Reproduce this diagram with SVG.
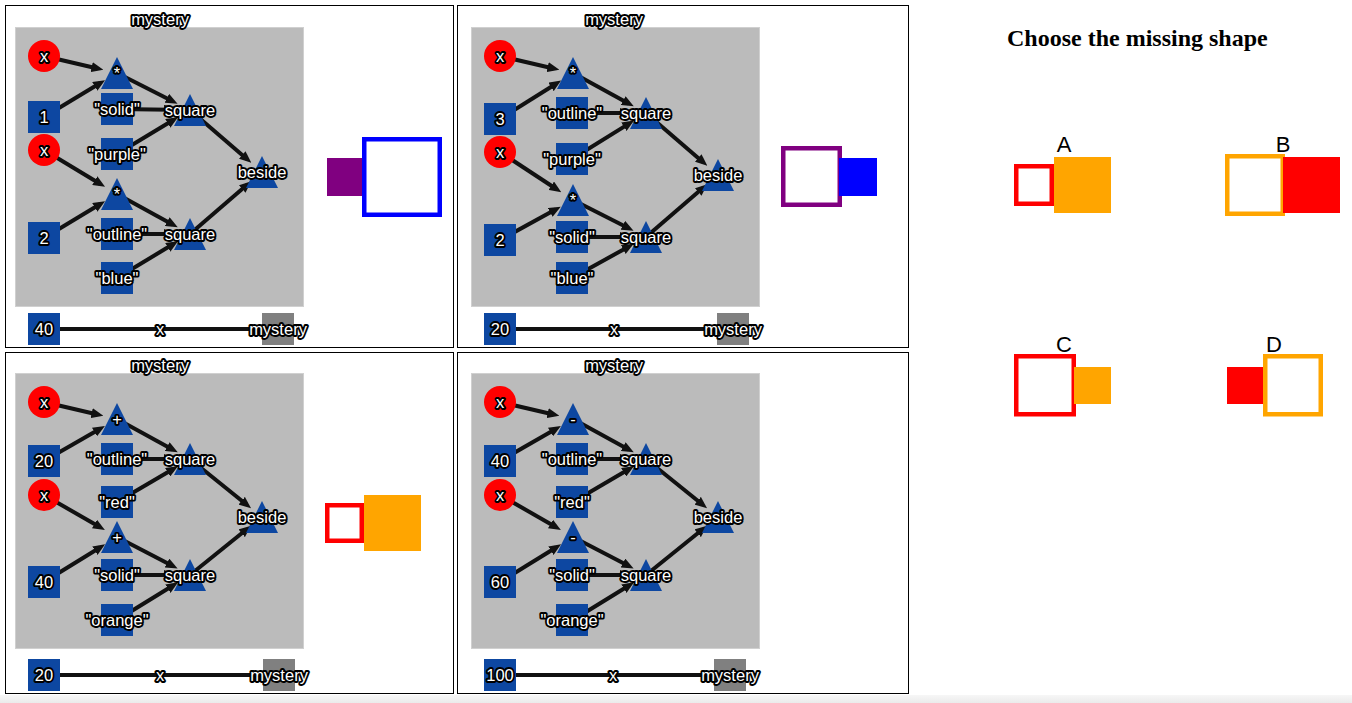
<svg xmlns="http://www.w3.org/2000/svg" width="1352" height="703" viewBox="0 0 1352 703">
<style>
.frame{fill:#fff;stroke:#000;stroke-width:1}
.box{fill:#bbbbbb;stroke:#d0d0d0;stroke-width:1}
.e{stroke:#111;stroke-width:4;fill:none;marker-end:url(#arr)}
.ln{stroke:#111;stroke-width:4;fill:none}
.sqn{fill:#0d47a1}
.tri{fill:#0d47a1}
.var{fill:#ff0000}
.mys{fill:#808080}
.lbl{font-family:"Liberation Sans",Arial,Helvetica,sans-serif;font-size:16.5px;fill:#fff;stroke:#000;stroke-width:3.8;stroke-linejoin:round;paint-order:stroke;text-anchor:middle}
.title{font-family:"Liberation Serif","Times New Roman",serif;font-size:24px;font-weight:bold;fill:#000}
.opt{font-family:"Liberation Sans",Arial,Helvetica,sans-serif;font-size:22px;fill:#000;text-anchor:middle}
</style>
<defs>
<marker id="arr" markerUnits="userSpaceOnUse" markerWidth="12" markerHeight="10" refX="6" refY="5" orient="auto" viewBox="0 0 12 10"><path d="M0,0 L12,5 L0,10 z" fill="#111"/></marker>
<linearGradient id="bot" x1="0" y1="0" x2="0" y2="1"><stop offset="0" stop-color="#f7f7f7"/><stop offset="1" stop-color="#ebebeb"/></linearGradient>
</defs>
<rect x="0" y="0" width="1352" height="703" fill="#fff"/>
<rect x="0" y="695" width="1352" height="8" fill="url(#bot)"/>

<!-- Panel 1 -->
<g id="panel1">
<rect class="frame" x="5.5" y="5.5" width="448" height="342"/>
<rect class="box" x="15.5" y="27.5" width="288" height="279"/>
<text class="lbl" x="160" y="19" dy="0.35em">mystery</text>
<g id="p1-connectors">
<line class="e" x1="44" y1="56" x2="97.5" y2="68.5"/>
<line class="e" x1="44" y1="117" x2="99.9" y2="83.3"/>
<line class="e" x1="117" y1="73" x2="172.2" y2="101"/>
<line class="e" x1="117" y1="109" x2="170" y2="109.7"/>
<line class="e" x1="117" y1="154" x2="172.9" y2="120.3"/>
<line class="e" x1="190" y1="110" x2="246.8" y2="158.9"/>
<line class="e" x1="44" y1="150" x2="99.9" y2="183.7"/>
<line class="e" x1="44" y1="238" x2="99.9" y2="204.3"/>
<line class="e" x1="117" y1="194" x2="172.5" y2="224.4"/>
<line class="e" x1="117" y1="234" x2="170" y2="234"/>
<line class="e" x1="117" y1="278" x2="172.9" y2="244.3"/>
<line class="e" x1="190" y1="234" x2="246.8" y2="185.1"/>
<line class="ln" x1="44" y1="329" x2="278" y2="329"/>
<text class="lbl" x="160" y="329" dy="0.35em">x</text>
</g>
<g id="p1-x1"><circle class="var" cx="44" cy="56" r="16"/><text class="lbl" x="44" y="56" dy="0.35em">x</text></g>
<g id="p1-n1"><rect class="sqn" x="28" y="101" width="32" height="32"/><text class="lbl" x="44" y="117" dy="0.35em">1</text></g>
<g id="p1-x2"><circle class="var" cx="44" cy="150" r="16"/><text class="lbl" x="44" y="150" dy="0.35em">x</text></g>
<g id="p1-op1"><polygon class="tri" points="117,57 101,89 133,89"/><text class="lbl" x="117" y="73" dy="0.35em">*</text></g>
<g id="p1-s1"><rect class="sqn" x="101" y="93" width="32" height="32"/><text class="lbl" x="117" y="109" dy="0.35em">"solid"</text></g>
<g id="p1-c1"><rect class="sqn" x="101" y="138" width="32" height="32"/><text class="lbl" x="117" y="154" dy="0.35em">"purple"</text></g>
<g id="p1-sq1"><polygon class="tri" points="190,94 174,126 206,126"/><text class="lbl" x="190" y="110" dy="0.35em">square</text></g>
<g id="p1-beside"><polygon class="tri" points="262,156 246,188 278,188"/><text class="lbl" x="262" y="172" dy="0.35em">beside</text></g>
<g id="p1-op2"><polygon class="tri" points="117,178 101,210 133,210"/><text class="lbl" x="117" y="194" dy="0.35em">*</text></g>
<g id="p1-n2"><rect class="sqn" x="28" y="222" width="32" height="32"/><text class="lbl" x="44" y="238" dy="0.35em">2</text></g>
<g id="p1-s2"><rect class="sqn" x="101" y="218" width="32" height="32"/><text class="lbl" x="117" y="234" dy="0.35em">"outline"</text></g>
<g id="p1-c2"><rect class="sqn" x="101" y="262" width="32" height="32"/><text class="lbl" x="117" y="278" dy="0.35em">"blue"</text></g>
<g id="p1-sq2"><polygon class="tri" points="190,218 174,250 206,250"/><text class="lbl" x="190" y="234" dy="0.35em">square</text></g>
<g id="p1-val"><rect class="sqn" x="28" y="313" width="32" height="32"/><text class="lbl" x="44" y="329" dy="0.35em">40</text></g>
<g id="p1-mystery"><rect class="mys" x="262" y="313" width="32" height="32"/><text class="lbl" x="278" y="329" dy="0.35em">mystery</text></g>
<g id="p1-result">
<rect x="327" y="158" width="36" height="38" fill="#800080"/>
<rect x="364.25" y="139.25" width="75.5" height="75.5" fill="#fff" stroke="#0000ff" stroke-width="4.5"/>
</g>
</g>

<!-- Panel 2 -->
<g id="panel2">
<rect class="frame" x="457.5" y="5.5" width="451" height="342"/>
<rect class="box" x="471.5" y="27.5" width="288" height="279"/>
<text class="lbl" x="614" y="19" dy="0.35em">mystery</text>
<g id="p2-connectors">
<line class="e" x1="500" y1="56" x2="553.5" y2="68.5"/>
<line class="e" x1="500" y1="119" x2="556.1" y2="83.7"/>
<line class="e" x1="573" y1="73" x2="628.5" y2="103.4"/>
<line class="e" x1="572" y1="113" x2="626" y2="113"/>
<line class="e" x1="572" y1="159" x2="629" y2="123.6"/>
<line class="e" x1="646" y1="113" x2="702.8" y2="161.9"/>
<line class="e" x1="500" y1="152" x2="556.3" y2="189"/>
<line class="e" x1="500" y1="240" x2="555.5" y2="209.6"/>
<line class="e" x1="573" y1="200" x2="628.2" y2="228"/>
<line class="e" x1="572" y1="237" x2="626" y2="237"/>
<line class="e" x1="572" y1="278" x2="628.5" y2="246.7"/>
<line class="e" x1="646" y1="237" x2="702.8" y2="188.1"/>
<line class="ln" x1="500" y1="329" x2="733" y2="329"/>
<text class="lbl" x="614" y="329" dy="0.35em">x</text>
</g>
<g id="p2-x1"><circle class="var" cx="500" cy="56" r="16"/><text class="lbl" x="500" y="56" dy="0.35em">x</text></g>
<g id="p2-n1"><rect class="sqn" x="484" y="103" width="32" height="32"/><text class="lbl" x="500" y="119" dy="0.35em">3</text></g>
<g id="p2-x2"><circle class="var" cx="500" cy="152" r="16"/><text class="lbl" x="500" y="152" dy="0.35em">x</text></g>
<g id="p2-op1"><polygon class="tri" points="573,57 557,89 589,89"/><text class="lbl" x="573" y="73" dy="0.35em">*</text></g>
<g id="p2-s1"><rect class="sqn" x="556" y="97" width="32" height="32"/><text class="lbl" x="572" y="113" dy="0.35em">"outline"</text></g>
<g id="p2-c1"><rect class="sqn" x="556" y="143" width="32" height="32"/><text class="lbl" x="572" y="159" dy="0.35em">"purple"</text></g>
<g id="p2-sq1"><polygon class="tri" points="646,97 630,129 662,129"/><text class="lbl" x="646" y="113" dy="0.35em">square</text></g>
<g id="p2-beside"><polygon class="tri" points="718,159 702,191 734,191"/><text class="lbl" x="718" y="175" dy="0.35em">beside</text></g>
<g id="p2-op2"><polygon class="tri" points="573,184 557,216 589,216"/><text class="lbl" x="573" y="200" dy="0.35em">*</text></g>
<g id="p2-n2"><rect class="sqn" x="484" y="224" width="32" height="32"/><text class="lbl" x="500" y="240" dy="0.35em">2</text></g>
<g id="p2-s2"><rect class="sqn" x="556" y="221" width="32" height="32"/><text class="lbl" x="572" y="237" dy="0.35em">"solid"</text></g>
<g id="p2-c2"><rect class="sqn" x="556" y="262" width="32" height="32"/><text class="lbl" x="572" y="278" dy="0.35em">"blue"</text></g>
<g id="p2-sq2"><polygon class="tri" points="646,221 630,253 662,253"/><text class="lbl" x="646" y="237" dy="0.35em">square</text></g>
<g id="p2-val"><rect class="sqn" x="484" y="313" width="32" height="32"/><text class="lbl" x="500" y="329" dy="0.35em">20</text></g>
<g id="p2-mystery"><rect class="mys" x="717" y="313" width="32" height="32"/><text class="lbl" x="733" y="329" dy="0.35em">mystery</text></g>
<g id="p2-result">
<rect x="783.25" y="148.25" width="56.5" height="56.5" fill="#fff" stroke="#800080" stroke-width="4.5"/>
<rect x="839" y="158" width="38" height="38" fill="#0000ff"/>
</g>
</g>

<!-- Panel 3 -->
<g id="panel3">
<rect class="frame" x="5.5" y="352.5" width="448" height="341"/>
<rect class="box" x="15.5" y="373.5" width="288" height="275"/>
<text class="lbl" x="160" y="365" dy="0.35em">mystery</text>
<g id="p3-connectors">
<line class="e" x1="44" y1="402" x2="97.5" y2="414.5"/>
<line class="e" x1="44" y1="461" x2="99.7" y2="429"/>
<line class="e" x1="117" y1="419" x2="172.5" y2="449.4"/>
<line class="e" x1="117" y1="459" x2="170" y2="459"/>
<line class="e" x1="117" y1="502" x2="172.8" y2="469.2"/>
<line class="e" x1="190" y1="459" x2="246.4" y2="504.5"/>
<line class="e" x1="44" y1="495" x2="99.7" y2="527"/>
<line class="e" x1="44" y1="582" x2="100" y2="547.5"/>
<line class="e" x1="117" y1="537" x2="172.3" y2="565.8"/>
<line class="e" x1="117" y1="575" x2="170" y2="575"/>
<line class="e" x1="117" y1="620" x2="173" y2="585.5"/>
<line class="e" x1="190" y1="575" x2="246.4" y2="529.5"/>
<line class="ln" x1="44" y1="675" x2="279" y2="675"/>
<text class="lbl" x="160" y="675" dy="0.35em">x</text>
</g>
<g id="p3-x1"><circle class="var" cx="44" cy="402" r="16"/><text class="lbl" x="44" y="402" dy="0.35em">x</text></g>
<g id="p3-n1"><rect class="sqn" x="28" y="445" width="32" height="32"/><text class="lbl" x="44" y="461" dy="0.35em">20</text></g>
<g id="p3-x2"><circle class="var" cx="44" cy="495" r="16"/><text class="lbl" x="44" y="495" dy="0.35em">x</text></g>
<g id="p3-op1"><polygon class="tri" points="117,403 101,435 133,435"/><text class="lbl" x="117" y="419" dy="0.35em">+</text></g>
<g id="p3-s1"><rect class="sqn" x="101" y="443" width="32" height="32"/><text class="lbl" x="117" y="459" dy="0.35em">"outline"</text></g>
<g id="p3-c1"><rect class="sqn" x="101" y="486" width="32" height="32"/><text class="lbl" x="117" y="502" dy="0.35em">"red"</text></g>
<g id="p3-sq1"><polygon class="tri" points="190,443 174,475 206,475"/><text class="lbl" x="190" y="459" dy="0.35em">square</text></g>
<g id="p3-beside"><polygon class="tri" points="262,501 246,533 278,533"/><text class="lbl" x="262" y="517" dy="0.35em">beside</text></g>
<g id="p3-op2"><polygon class="tri" points="117,521 101,553 133,553"/><text class="lbl" x="117" y="537" dy="0.35em">+</text></g>
<g id="p3-n2"><rect class="sqn" x="28" y="566" width="32" height="32"/><text class="lbl" x="44" y="582" dy="0.35em">40</text></g>
<g id="p3-s2"><rect class="sqn" x="101" y="559" width="32" height="32"/><text class="lbl" x="117" y="575" dy="0.35em">"solid"</text></g>
<g id="p3-c2"><rect class="sqn" x="101" y="604" width="32" height="32"/><text class="lbl" x="117" y="620" dy="0.35em">"orange"</text></g>
<g id="p3-sq2"><polygon class="tri" points="190,559 174,591 206,591"/><text class="lbl" x="190" y="575" dy="0.35em">square</text></g>
<g id="p3-val"><rect class="sqn" x="28" y="659" width="32" height="32"/><text class="lbl" x="44" y="675" dy="0.35em">20</text></g>
<g id="p3-mystery"><rect class="mys" x="263" y="659" width="32" height="32"/><text class="lbl" x="279" y="675" dy="0.35em">mystery</text></g>
<g id="p3-result">
<rect x="327.25" y="505.25" width="34.5" height="35.5" fill="#fff" stroke="#ff0000" stroke-width="4.5"/>
<rect x="364" y="495" width="57" height="56" fill="#ffa500"/>
</g>
</g>

<!-- Panel 4 -->
<g id="panel4">
<rect class="frame" x="457.5" y="352.5" width="451" height="341"/>
<rect class="box" x="471.5" y="373.5" width="288" height="275"/>
<text class="lbl" x="614" y="365" dy="0.35em">mystery</text>
<g id="p4-connectors">
<line class="e" x1="500" y1="402" x2="553.5" y2="414.5"/>
<line class="e" x1="500" y1="461" x2="555.7" y2="429"/>
<line class="e" x1="573" y1="419" x2="628.5" y2="449.4"/>
<line class="e" x1="573" y1="459" x2="626" y2="459"/>
<line class="e" x1="573" y1="502" x2="628.8" y2="469.2"/>
<line class="e" x1="646" y1="459" x2="702.4" y2="504.5"/>
<line class="e" x1="500" y1="495" x2="555.7" y2="527"/>
<line class="e" x1="500" y1="582" x2="556" y2="547.5"/>
<line class="e" x1="573" y1="537" x2="628.3" y2="565.8"/>
<line class="e" x1="573" y1="575" x2="626" y2="575"/>
<line class="e" x1="573" y1="620" x2="629" y2="585.5"/>
<line class="e" x1="646" y1="575" x2="702.4" y2="529.5"/>
<line class="ln" x1="500" y1="675" x2="730" y2="675"/>
<text class="lbl" x="613" y="675" dy="0.35em">x</text>
</g>
<g id="p4-x1"><circle class="var" cx="500" cy="402" r="16"/><text class="lbl" x="500" y="402" dy="0.35em">x</text></g>
<g id="p4-n1"><rect class="sqn" x="484" y="445" width="32" height="32"/><text class="lbl" x="500" y="461" dy="0.35em">40</text></g>
<g id="p4-x2"><circle class="var" cx="500" cy="495" r="16"/><text class="lbl" x="500" y="495" dy="0.35em">x</text></g>
<g id="p4-op1"><polygon class="tri" points="573,403 557,435 589,435"/><text class="lbl" x="573" y="419" dy="0.35em">-</text></g>
<g id="p4-s1"><rect class="sqn" x="556" y="443" width="32" height="32"/><text class="lbl" x="572" y="459" dy="0.35em">"outline"</text></g>
<g id="p4-c1"><rect class="sqn" x="556" y="486" width="32" height="32"/><text class="lbl" x="572" y="502" dy="0.35em">"red"</text></g>
<g id="p4-sq1"><polygon class="tri" points="646,443 630,475 662,475"/><text class="lbl" x="646" y="459" dy="0.35em">square</text></g>
<g id="p4-beside"><polygon class="tri" points="718,501 702,533 734,533"/><text class="lbl" x="718" y="517" dy="0.35em">beside</text></g>
<g id="p4-op2"><polygon class="tri" points="573,521 557,553 589,553"/><text class="lbl" x="573" y="537" dy="0.35em">-</text></g>
<g id="p4-n2"><rect class="sqn" x="484" y="566" width="32" height="32"/><text class="lbl" x="500" y="582" dy="0.35em">60</text></g>
<g id="p4-s2"><rect class="sqn" x="556" y="559" width="32" height="32"/><text class="lbl" x="572" y="575" dy="0.35em">"solid"</text></g>
<g id="p4-c2"><rect class="sqn" x="556" y="604" width="32" height="32"/><text class="lbl" x="572" y="620" dy="0.35em">"orange"</text></g>
<g id="p4-sq2"><polygon class="tri" points="646,559 630,591 662,591"/><text class="lbl" x="646" y="575" dy="0.35em">square</text></g>
<g id="p4-val"><rect class="sqn" x="484" y="659" width="32" height="32"/><text class="lbl" x="500" y="675" dy="0.35em">100</text></g>
<g id="p4-mystery"><rect class="mys" x="714" y="659" width="32" height="32"/><text class="lbl" x="730" y="675" dy="0.35em">mystery</text></g>
</g>

<!-- Choices -->
<g id="choices">
<text class="title" x="1007" y="46">Choose the missing shape</text>
<g id="optA">
<text class="opt" x="1064" y="152">A</text>
<rect x="1016.25" y="166.25" width="35.5" height="37.5" fill="#fff" stroke="#ff0000" stroke-width="4.5"/>
<rect x="1054" y="157" width="57" height="56" fill="#ffa500"/>
</g>
<g id="optB">
<text class="opt" x="1283" y="152">B</text>
<rect x="1227.25" y="156.25" width="55.5" height="57.5" fill="#fff" stroke="#ffa500" stroke-width="4.5"/>
<rect x="1283" y="157" width="57" height="56" fill="#ff0000"/>
</g>
<g id="optC">
<text class="opt" x="1064" y="352">C</text>
<rect x="1016.25" y="356.25" width="57.5" height="58" fill="#fff" stroke="#ff0000" stroke-width="4.5"/>
<rect x="1074" y="367" width="37" height="37" fill="#ffa500"/>
</g>
<g id="optD">
<text class="opt" x="1274" y="352">D</text>
<rect x="1227" y="367" width="36" height="37" fill="#ff0000"/>
<rect x="1265.25" y="356.25" width="55.5" height="58" fill="#fff" stroke="#ffa500" stroke-width="4.5"/>
</g>
</g>
</svg>
